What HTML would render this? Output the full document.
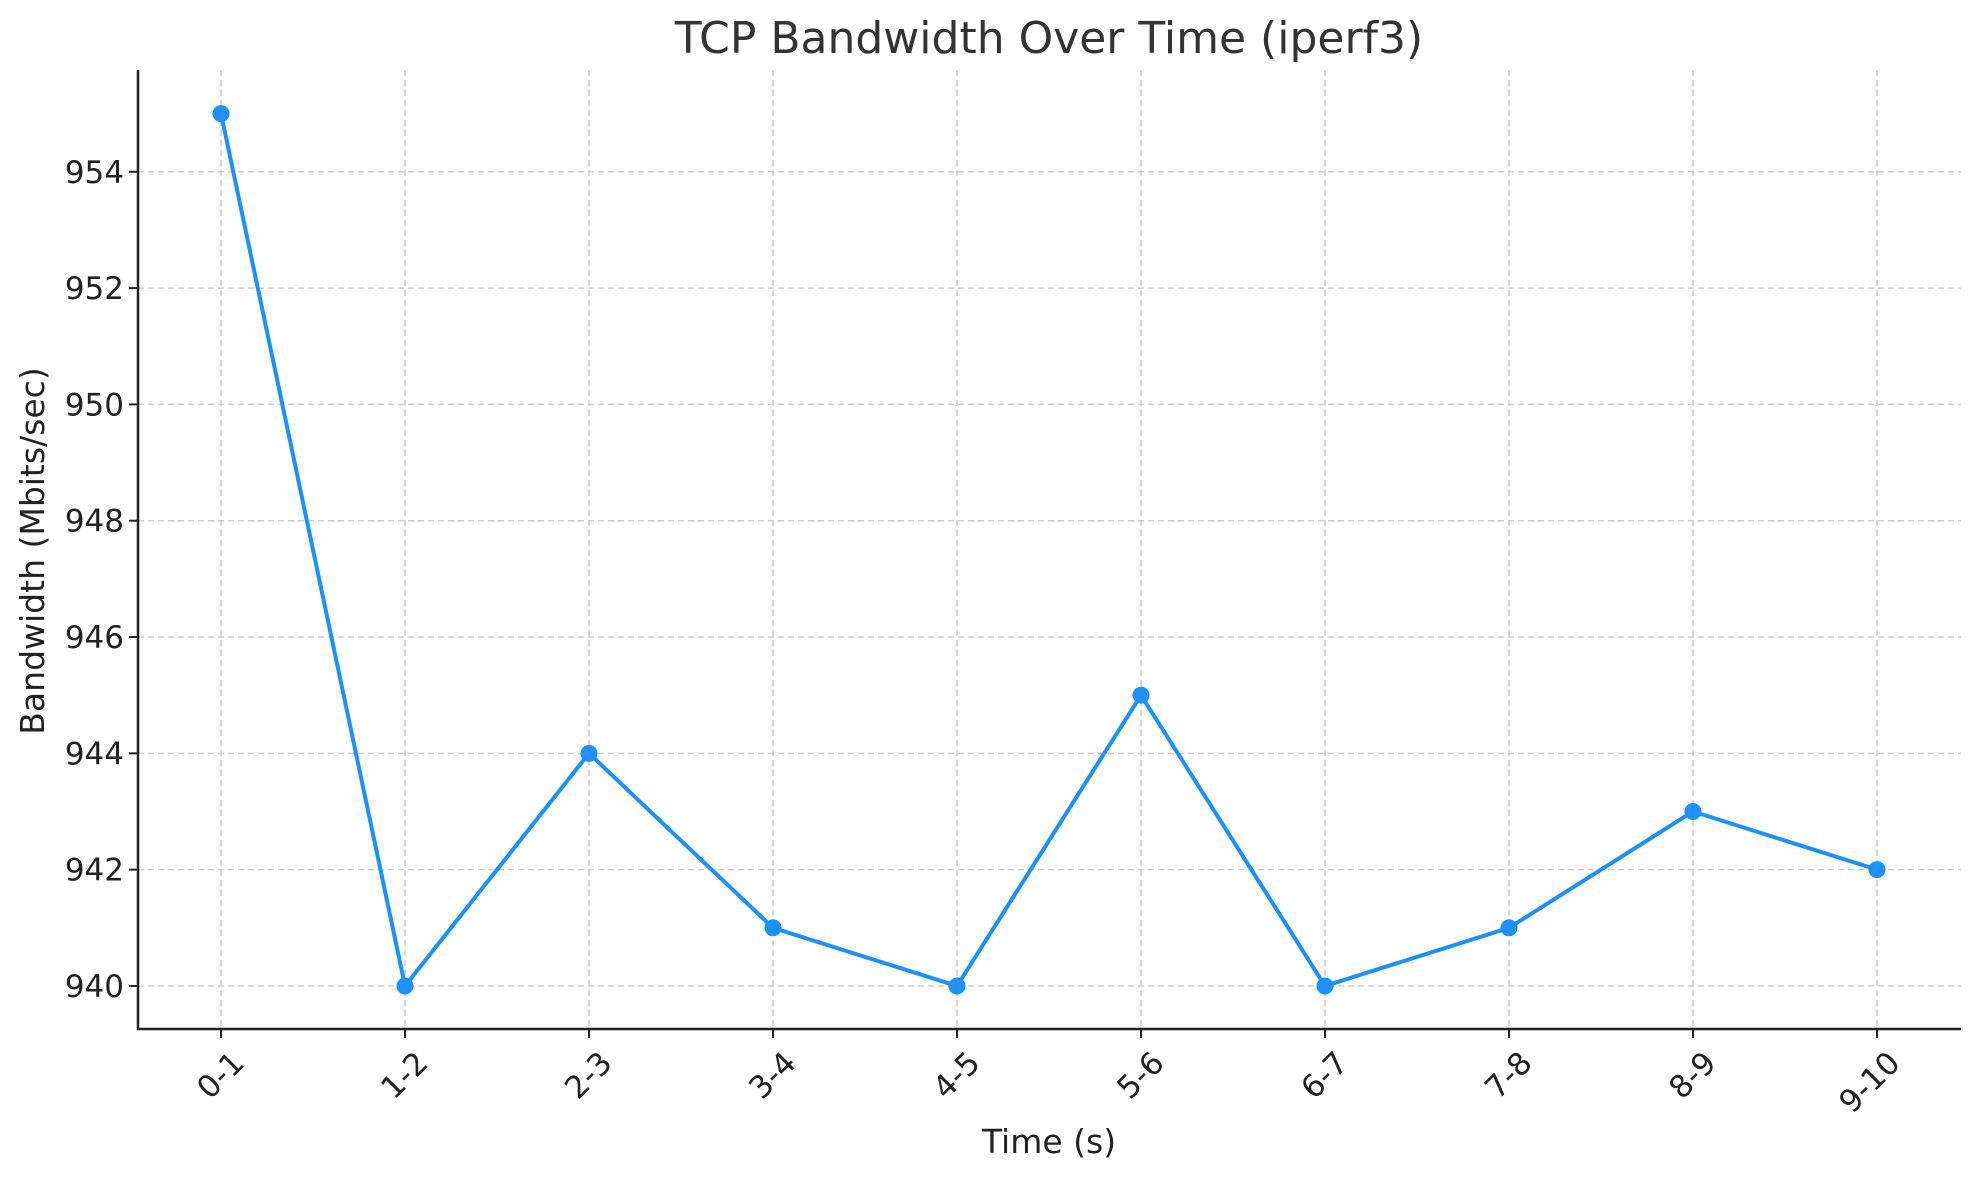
<!DOCTYPE html>
<html><head><meta charset="utf-8"><style>
html,body{margin:0;padding:0;background:#fff;}
svg{display:block;font-family:"DejaVu Sans","Liberation Sans",sans-serif;}
</style></head><body>
<svg id="chart" width="1979" height="1180" viewBox="0 0 1979 1180" xmlns="http://www.w3.org/2000/svg">
<rect width="1979" height="1180" fill="#fff"/>
<text x="1049" y="53" font-size="44" text-anchor="middle" fill="#333">TCP Bandwidth Over Time (iperf3)</text>
<g id="grid"></g>
<g id="series"></g>
<g id="axes"></g>
<text x="1049" y="1153" font-size="33" text-anchor="middle" fill="#222">Time (s)</text>
<text transform="translate(44,551) rotate(-90)" font-size="33" text-anchor="middle" fill="#222">Bandwidth (Mbits/sec)</text>
</svg>
<script>
const categories = ["0-1","1-2","2-3","3-4","4-5","5-6","6-7","7-8","8-9","9-10"];
const bandwidth = [955,940,944,941,940,945,940,941,943,942];
const yTicks = [940,942,944,946,948,950,952,954];

const NS="http://www.w3.org/2000/svg";
const L=138,R=1961,T=70,B=1029;
const yMin=939.26,yMax=955.75;
const x0=221,xStep=(1877-221)/9;
function xs(i){return x0+i*xStep;}
function ys(v){return B-(v-yMin)/(yMax-yMin)*(B-T);}
function mk(tag,attrs,parent){const e=document.createElementNS(NS,tag);for(const k in attrs)e.setAttribute(k,attrs[k]);parent.appendChild(e);return e;}
const grid=document.getElementById('grid'),series=document.getElementById('series'),axes=document.getElementById('axes');

categories.forEach((c,i)=>{
  const x=xs(i);
  const g=mk('line',{x1:x,x2:x,y1:T,y2:B,stroke:'#cccccc','stroke-width':1.5,'stroke-dasharray':'6,4'},grid);
  
  
  const t=mk('line',{x1:x,x2:x,y1:B,y2:B+9,stroke:'#222','stroke-width':2},axes);
  
  
  const lb=mk('text',{transform:`translate(${x+9},${B+20}) rotate(-45)`,'font-size':31,'text-anchor':'end','dominant-baseline':'hanging',fill:'#222'},axes);
  lb.textContent=c;
  
  
});
yTicks.forEach(v=>{
  const y=ys(v);
  const g=mk('line',{x1:L,x2:R,y1:y,y2:y,stroke:'#cccccc','stroke-width':1.5,'stroke-dasharray':'6,4'},grid);
  
  
  const t=mk('line',{x1:L-9,x2:L,y1:y,y2:y,stroke:'#222','stroke-width':2},axes);
  
  
  const lb=mk('text',{x:L-14,y:y+11,'font-size':31,'text-anchor':'end',fill:'#222'},axes);
  lb.textContent=v;
  
  
});
const ax=mk('path',{d:`M${L},${T} L${L},${B} L${R},${B}`,fill:'none',stroke:'#222','stroke-width':2.5},axes);



const pts=bandwidth.map((v,i)=>xs(i)+','+ys(v)).join(' ');
const line=mk('polyline',{points:pts,fill:'none',stroke:'#1e90ff','stroke-width':4,'stroke-linejoin':'round'},series);


bandwidth.forEach((v,i)=>{
  const c=mk('circle',{cx:xs(i),cy:ys(v),r:8.5,fill:'#1e90ff'},series);
  
  
});
</script>
</body></html>
